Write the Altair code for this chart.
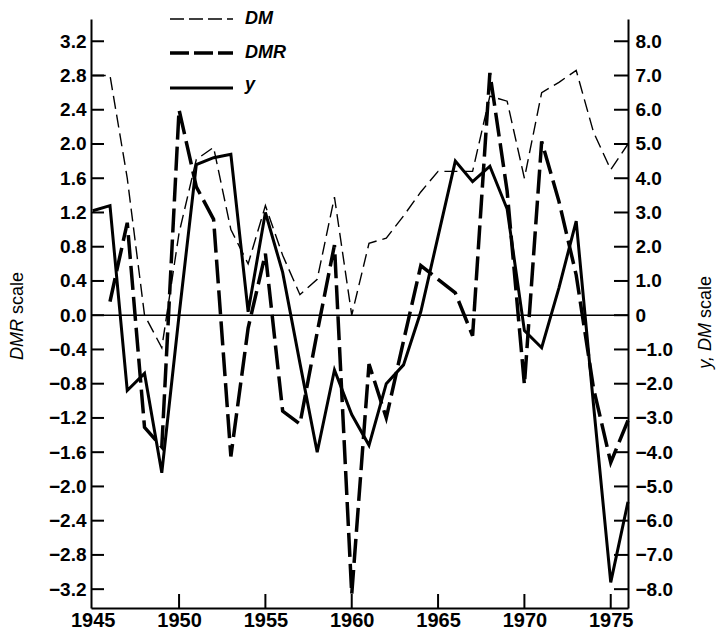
import altair as alt
import pandas as pd

# ---------------- data ----------------
years = list(range(1945, 1977))
# y series (right scale: y, DM scale)
y_vals = [3.05, 3.2, -2.2, -1.7, -4.6, 0.0, 4.4, 4.6, 4.7, 0.1,
          3.0, 1.25, -1.4, -4.0, -1.6, -2.9, -3.8, -2.0, -1.45, 0.1,
          2.3, 4.5, 3.9, 4.35, 3.1, -0.45, -0.95, 0.8, 2.75, -2.6,
          -7.8, -5.45]
# DM series (right scale)
dm_vals = [7.0, 7.0, 4.0, 0.0, -0.95, 2.4, 4.55, 4.9, 2.5, 1.5,
           3.2, 1.75, 0.6, 1.05, 3.45, 0.0, 2.1, 2.25, 2.9, 3.6,
           4.2, 4.2, 4.2, 6.4, 6.25, 4.0, 6.5, 6.8, 7.15, 5.35,
           4.25, 5.0]
# DMR series (left scale)
dmr_years = list(range(1946, 1977))
dmr_vals = [0.16, 1.08, -1.31, -1.54, 2.4, 1.5, 1.12, -1.65, -0.15, 0.72,
            -1.12, -1.27, -0.2, 0.82, -3.26, -0.57, -1.2, -0.3, 0.58, 0.42,
            0.26, -0.24, 2.83, 1.45, -0.81, 2.03, 1.33, 0.47, -0.85, -1.72,
            -1.23]

left_ticks = [-3.2, -2.8, -2.4, -2.0, -1.6, -1.2, -0.8, -0.4, 0.0,
              0.4, 0.8, 1.2, 1.6, 2.0, 2.4, 2.8, 3.2]
right_ticks = [-8, -7, -6, -5, -4, -3, -2, -1, 0, 1, 2, 3, 4, 5, 6, 7, 8]
x_ticks = [1945, 1950, 1955, 1960, 1965, 1970, 1975]

# ---------------- layout ----------------
W, H = 537, 589
FONT = "Liberation Sans"
INK = "black"

xs = alt.Scale(domain=[1944.9, 1976.0], nice=False, zero=False)
ls = alt.Scale(domain=[-3.42, 3.46], nice=False, zero=False)
rs = alt.Scale(domain=[-8.55, 8.65], nice=False, zero=False)

x_axis = alt.Axis(values=x_ticks, format="d", title=None, grid=False,
                  ticks=False, tickSize=0, labelFont=FONT, labelFontSize=20,
                  labelFontWeight="bold", labelColor=INK, labelPadding=2,
                  domainColor=INK, domainWidth=2, labelFlush=False,
                  labelOverlap=False)
l_axis = alt.Axis(values=left_ticks, format=".1f", title=None, grid=False,
                  ticks=False, tickSize=0, labelFont=FONT, labelFontSize=19,
                  labelFontWeight="bold", labelColor=INK, labelPadding=5,
                  domainColor=INK, domainWidth=2, labelOverlap=False,
                  labelFlush=False, orient="left")
r_axis = alt.Axis(values=right_ticks,
                  labelExpr="datum.value == 0 ? '0' : format(datum.value, '.1f')",
                  title=None, grid=False, ticks=False, tickSize=0,
                  labelFont=FONT, labelFontSize=19, labelFontWeight="bold",
                  labelColor=INK, labelPadding=7, domainColor=INK,
                  domainWidth=2, labelOverlap=False, labelFlush=False,
                  orient="right")

df_main = pd.DataFrame({"year": years, "y": y_vals, "dm": dm_vals})
df_dmr = pd.DataFrame({"year": dmr_years, "dmr": dmr_vals})

X = alt.X("year:Q", scale=xs, axis=x_axis)

# ---- left (DMR) scale group ----
zero_rule = alt.Chart(pd.DataFrame({"v": [0.0]})).mark_rule(
    color=INK, strokeWidth=1.5).encode(y=alt.Y("v:Q", scale=ls, axis=l_axis))
left_tick_marks = alt.Chart(pd.DataFrame({"v": left_ticks})).mark_rule(
    color=INK, strokeWidth=2).encode(
    y=alt.Y("v:Q", scale=ls, axis=l_axis), x=alt.value(0), x2=alt.value(13))
dmr_line = alt.Chart(df_dmr).mark_line(
    color=INK, strokeWidth=3.5, strokeDash=[24, 7]).encode(
    x=X, y=alt.Y("dmr:Q", scale=ls, axis=l_axis))
left = alt.layer(zero_rule, left_tick_marks, dmr_line)

# ---- right (y, DM) scale group ----
right_tick_marks = alt.Chart(pd.DataFrame({"v": right_ticks})).mark_rule(
    color=INK, strokeWidth=2).encode(
    y=alt.Y("v:Q", scale=rs, axis=r_axis), x=alt.value(W - 14), x2=alt.value(W))
dm_line = alt.Chart(df_main).mark_line(
    color=INK, strokeWidth=1.4, strokeDash=[13, 6]).encode(
    x=X, y=alt.Y("dm:Q", scale=rs, axis=r_axis))
y_line = alt.Chart(df_main).mark_line(
    color=INK, strokeWidth=3).encode(
    x=X, y=alt.Y("y:Q", scale=rs, axis=r_axis))
right = alt.layer(right_tick_marks, dm_line, y_line)

bottom_ticks = alt.Chart(pd.DataFrame({"yr": x_ticks[1:]})).mark_rule(
    color=INK, strokeWidth=2).encode(
    x=alt.X("yr:Q", scale=xs, axis=x_axis), y=alt.value(H - 14), y2=alt.value(H))


def one(s):
    return alt.Chart(pd.DataFrame({"t": [s]}))


def txt(s, x, y, **kw):
    return one(s).mark_text(font=FONT, color=INK, **kw).encode(
        text="t:N", x=alt.value(x), y=alt.value(y))


def leg_line(y, **kw):
    return one("l").mark_rule(color=INK, **kw).encode(
        x=alt.value(79), x2=alt.value(142), y=alt.value(y))


legend = [
    leg_line(0, strokeWidth=1.4, strokeDash=[14, 5]),
    leg_line(34, strokeWidth=3.5, strokeDash=[19, 5]),
    leg_line(69, strokeWidth=3),
    txt("DM", 154, 0, fontSize=18, fontStyle="italic", fontWeight="bold",
        align="left", baseline="middle"),
    txt("DMR", 154, 34, fontSize=18, fontStyle="italic", fontWeight="bold",
        align="left", baseline="middle"),
    txt("y", 154, 66, fontSize=18, fontStyle="italic", fontWeight="bold",
        align="left", baseline="middle"),
]

titles = [
    txt("DMR", -73, 300, fontSize=18, fontStyle="italic", angle=270,
        align="right", baseline="middle"),
    txt("scale", -73, 295, fontSize=18, angle=270, align="left",
        baseline="middle"),
    txt("y, DM", 615, 304, fontSize=18, fontStyle="italic", angle=270,
        align="right", baseline="middle"),
    txt("scale", 615, 299, fontSize=18, angle=270, align="left",
        baseline="middle"),
]

chart = alt.layer(left, right, bottom_ticks, *legend, *titles).resolve_scale(
    y="independent"
).properties(
    width=W, height=H,
    padding={"left": 83, "top": 11, "right": 88, "bottom": 25},
    autosize=alt.AutoSizeParams(type="none"),
    background="white",
).configure_view(strokeWidth=0)

chart.save("out.html", embed_options={"renderer": "svg", "actions": False})
